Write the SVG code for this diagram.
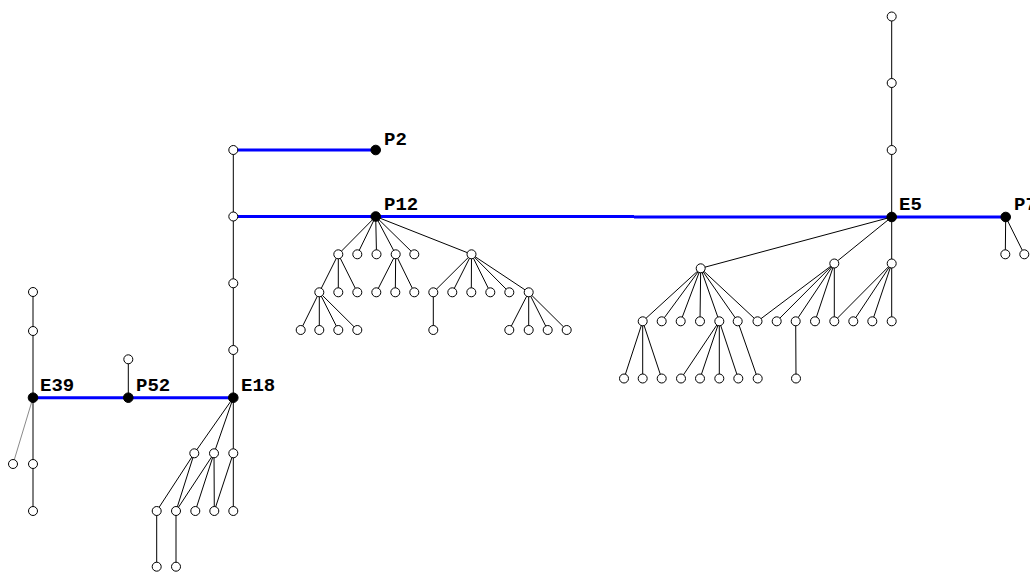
<svg xmlns="http://www.w3.org/2000/svg" width="1030" height="573" viewBox="0 0 1030 573">
<style>
  .e { stroke: #000; stroke-width: 1; fill: none; }
  .g { stroke: #8a8a8a; stroke-width: 1; fill: none; }
  .b { stroke: #0000ff; stroke-width: 3; fill: none; }
  .n { fill: #fff; stroke: #000; stroke-width: 1; }
  .k { fill: #000; stroke: #000; stroke-width: 1; }
  .l { font-family: "Liberation Mono", "Courier New", monospace; font-weight: bold; font-size: 19px; fill: #000; }
</style>
<rect width="1030" height="573" fill="#fff"/>

<!-- connectors -->
<g id="connectors">
  <!-- highlighted path -->
  <g class="b">
    <line x1="33" y1="397.7" x2="128.3" y2="397.7"/>
    <line x1="128.3" y1="397.7" x2="233.3" y2="397.7"/>
    <line x1="233.3" y1="150" x2="375.7" y2="150"/>
    <line x1="233.3" y1="216.5" x2="375.7" y2="216.5"/>
    <line x1="375.7" y1="216.5" x2="634" y2="216.5"/>
    <line x1="634" y1="217" x2="891.7" y2="217"/>
    <line x1="891.7" y1="217" x2="1005.7" y2="217"/>
  </g>
  <g class="e">
    <!-- E39 column -->
    <line x1="33" y1="292" x2="33" y2="331"/>
    <line x1="33" y1="331" x2="33" y2="397.7"/>
    <line x1="33" y1="397.7" x2="33" y2="464"/>
    <line x1="33" y1="464" x2="33" y2="511"/>
    <!-- P52 -->
    <line x1="128.3" y1="397.7" x2="128.3" y2="359.3"/>
    <!-- E18 column -->
    <line x1="233.3" y1="150" x2="233.3" y2="216.5"/>
    <line x1="233.3" y1="216.5" x2="233.3" y2="283.3"/>
    <line x1="233.3" y1="283.3" x2="233.3" y2="350"/>
    <line x1="233.3" y1="350" x2="233.3" y2="397.7"/>
    <!-- E18 subtree -->
    <line x1="233.3" y1="397.7" x2="194.3" y2="453.3"/>
    <line x1="233.3" y1="397.7" x2="214" y2="453.3"/>
    <line x1="233.3" y1="397.7" x2="233.3" y2="453.3"/>
    <line x1="194.3" y1="453.3" x2="156.7" y2="511"/>
    <line x1="194.3" y1="453.3" x2="176" y2="511"/>
    <line x1="214" y1="453.3" x2="176" y2="511"/>
    <line x1="214" y1="453.3" x2="195.3" y2="511"/>
    <line x1="214" y1="453.3" x2="214.3" y2="511"/>
    <line x1="233.3" y1="453.3" x2="214.3" y2="511"/>
    <line x1="233.3" y1="453.3" x2="233.3" y2="511"/>
    <line x1="156.7" y1="511" x2="156.7" y2="566.7"/>
    <line x1="176" y1="511" x2="176" y2="566.7"/>
    <!-- P12 subtree -->
    <line x1="375.7" y1="216.5" x2="338.3" y2="254.3"/>
    <line x1="375.7" y1="216.5" x2="357.3" y2="254.3"/>
    <line x1="375.7" y1="216.5" x2="376.5" y2="254.3"/>
    <line x1="375.7" y1="216.5" x2="395.7" y2="254.3"/>
    <line x1="375.7" y1="216.5" x2="414.3" y2="254.3"/>
    <line x1="375.7" y1="216.5" x2="471.5" y2="254.3"/>
    <line x1="338.3" y1="254.3" x2="319.3" y2="292.3"/>
    <line x1="338.3" y1="254.3" x2="338.3" y2="292.3"/>
    <line x1="338.3" y1="254.3" x2="357.3" y2="292.3"/>
    <line x1="395.7" y1="254.3" x2="376.3" y2="292.3"/>
    <line x1="395.7" y1="254.3" x2="395.3" y2="292.3"/>
    <line x1="395.7" y1="254.3" x2="414.3" y2="292.3"/>
    <line x1="319.3" y1="292.3" x2="300.7" y2="330"/>
    <line x1="319.3" y1="292.3" x2="319.3" y2="330"/>
    <line x1="319.3" y1="292.3" x2="338.3" y2="330"/>
    <line x1="319.3" y1="292.3" x2="357.3" y2="330"/>
    <line x1="471.5" y1="254.3" x2="433.3" y2="292.3"/>
    <line x1="471.5" y1="254.3" x2="452.3" y2="292.3"/>
    <line x1="471.5" y1="254.3" x2="471.3" y2="292.3"/>
    <line x1="471.5" y1="254.3" x2="490.3" y2="292.3"/>
    <line x1="471.5" y1="254.3" x2="509.3" y2="292.3"/>
    <line x1="471.5" y1="254.3" x2="528.7" y2="292.3"/>
    <line x1="433.3" y1="292.3" x2="433.3" y2="330"/>
    <line x1="528.7" y1="292.3" x2="509.3" y2="330"/>
    <line x1="528.7" y1="292.3" x2="528.7" y2="330"/>
    <line x1="528.7" y1="292.3" x2="547.7" y2="330"/>
    <line x1="528.7" y1="292.3" x2="566.7" y2="330"/>
    <!-- E5 column -->
    <line x1="891.7" y1="16.5" x2="891.7" y2="83"/>
    <line x1="891.7" y1="83" x2="891.7" y2="150"/>
    <line x1="891.7" y1="150" x2="891.7" y2="217"/>
    <line x1="891.7" y1="217" x2="891.7" y2="263.5"/>
    <!-- P7 -->
    <line x1="1005.7" y1="217" x2="1005.3" y2="254.3"/>
    <line x1="1005.7" y1="217" x2="1024.3" y2="254.3"/>
    <!-- E5 subtree -->
    <line x1="891.7" y1="217" x2="700.7" y2="268.3"/>
    <line x1="891.7" y1="217" x2="834.3" y2="263.5"/>
    <line x1="700.7" y1="268.3" x2="642.7" y2="321.3"/>
    <line x1="700.7" y1="268.3" x2="661.7" y2="321.3"/>
    <line x1="700.7" y1="268.3" x2="680.7" y2="321.3"/>
    <line x1="700.7" y1="268.3" x2="700" y2="321.3"/>
    <line x1="700.7" y1="268.3" x2="719.3" y2="321.3"/>
    <line x1="700.7" y1="268.3" x2="737.7" y2="321.3"/>
    <line x1="700.7" y1="268.3" x2="757.5" y2="321.3"/>
    <line x1="834.3" y1="263.5" x2="757.5" y2="321.3"/>
    <line x1="834.3" y1="263.5" x2="776.7" y2="321.3"/>
    <line x1="834.3" y1="263.5" x2="795.7" y2="321.3"/>
    <line x1="834.3" y1="263.5" x2="815" y2="321.3"/>
    <line x1="834.3" y1="263.5" x2="834.3" y2="321.3"/>
    <line x1="891.7" y1="263.5" x2="834.3" y2="321.3"/>
    <line x1="891.7" y1="263.5" x2="853.3" y2="321.3"/>
    <line x1="891.7" y1="263.5" x2="872.3" y2="321.3"/>
    <line x1="891.7" y1="263.5" x2="891.7" y2="321.3"/>
    <line x1="642.7" y1="321.3" x2="624" y2="378.5"/>
    <line x1="642.7" y1="321.3" x2="642.7" y2="378.5"/>
    <line x1="642.7" y1="321.3" x2="661.7" y2="378.5"/>
    <line x1="719.3" y1="321.3" x2="681" y2="378.5"/>
    <line x1="719.3" y1="321.3" x2="700" y2="378.5"/>
    <line x1="719.3" y1="321.3" x2="719.3" y2="378.5"/>
    <line x1="719.3" y1="321.3" x2="738.3" y2="378.5"/>
    <line x1="737.7" y1="321.3" x2="757.7" y2="378.5"/>
    <line x1="795.7" y1="321.3" x2="796" y2="378.5"/>
  </g>
  <line class="g" x1="33" y1="397.7" x2="13" y2="464"/>
</g>

<!-- nodes: left branch -->
<g id="a1"><circle class="n" cx="33" cy="292" r="4.5"/></g>
<g id="a2"><circle class="n" cx="33" cy="331" r="4.5"/></g>
<g id="a3"><circle class="n" cx="13" cy="464" r="4.5"/></g>
<g id="a4"><circle class="n" cx="33" cy="464" r="4.5"/></g>
<g id="a5"><circle class="n" cx="33" cy="511" r="4.5"/></g>
<g id="E39"><circle class="k" cx="33" cy="397.7" r="4.8"/><text class="l" x="40" y="391">E39</text></g>
<g id="b1"><circle class="n" cx="128.3" cy="359.3" r="4.5"/></g>
<g id="P52"><circle class="k" cx="128.3" cy="397.7" r="4.8"/><text class="l" x="136" y="391">P52</text></g>
<g id="c1"><circle class="n" cx="233.3" cy="350" r="4.5"/></g>
<g id="c2"><circle class="n" cx="233.3" cy="283.3" r="4.5"/></g>
<g id="c3"><circle class="n" cx="233.3" cy="216.5" r="4.5"/></g>
<g id="c4"><circle class="n" cx="233.3" cy="150" r="4.5"/></g>
<g id="E18"><circle class="k" cx="233.3" cy="397.7" r="4.8"/><text class="l" x="241" y="391">E18</text></g>
<g id="d1"><circle class="n" cx="194.3" cy="453.3" r="4.5"/></g>
<g id="d2"><circle class="n" cx="214" cy="453.3" r="4.5"/></g>
<g id="d3"><circle class="n" cx="233.3" cy="453.3" r="4.5"/></g>
<g id="d4"><circle class="n" cx="156.7" cy="511" r="4.5"/></g>
<g id="d5"><circle class="n" cx="176" cy="511" r="4.5"/></g>
<g id="d6"><circle class="n" cx="195.3" cy="511" r="4.5"/></g>
<g id="d7"><circle class="n" cx="214.3" cy="511" r="4.5"/></g>
<g id="d8"><circle class="n" cx="233.3" cy="511" r="4.5"/></g>
<g id="d9"><circle class="n" cx="156.7" cy="566.7" r="4.5"/></g>
<g id="d10"><circle class="n" cx="176" cy="566.7" r="4.5"/></g>

<!-- nodes: P2 / P12 -->
<g id="P2"><circle class="k" cx="375.7" cy="150" r="4.8"/><text class="l" x="384" y="145">P2</text></g>
<g id="P12"><circle class="k" cx="375.7" cy="216.5" r="4.8"/><text class="l" x="384" y="210">P12</text></g>
<g id="p1"><circle class="n" cx="338.3" cy="254.3" r="4.5"/></g>
<g id="p2"><circle class="n" cx="357.3" cy="254.3" r="4.5"/></g>
<g id="p3"><circle class="n" cx="376.5" cy="254.3" r="4.5"/></g>
<g id="p4"><circle class="n" cx="395.7" cy="254.3" r="4.5"/></g>
<g id="p5"><circle class="n" cx="414.3" cy="254.3" r="4.5"/></g>
<g id="p6"><circle class="n" cx="471.5" cy="254.3" r="4.5"/></g>
<g id="q1"><circle class="n" cx="319.3" cy="292.3" r="4.5"/></g>
<g id="q2"><circle class="n" cx="338.3" cy="292.3" r="4.5"/></g>
<g id="q3"><circle class="n" cx="357.3" cy="292.3" r="4.5"/></g>
<g id="q4"><circle class="n" cx="376.3" cy="292.3" r="4.5"/></g>
<g id="q5"><circle class="n" cx="395.3" cy="292.3" r="4.5"/></g>
<g id="q6"><circle class="n" cx="414.3" cy="292.3" r="4.5"/></g>
<g id="r1"><circle class="n" cx="300.7" cy="330" r="4.5"/></g>
<g id="r2"><circle class="n" cx="319.3" cy="330" r="4.5"/></g>
<g id="r3"><circle class="n" cx="338.3" cy="330" r="4.5"/></g>
<g id="r4"><circle class="n" cx="357.3" cy="330" r="4.5"/></g>
<g id="s1"><circle class="n" cx="433.3" cy="292.3" r="4.5"/></g>
<g id="s2"><circle class="n" cx="452.3" cy="292.3" r="4.5"/></g>
<g id="s3"><circle class="n" cx="471.3" cy="292.3" r="4.5"/></g>
<g id="s4"><circle class="n" cx="490.3" cy="292.3" r="4.5"/></g>
<g id="s5"><circle class="n" cx="509.3" cy="292.3" r="4.5"/></g>
<g id="s6"><circle class="n" cx="528.7" cy="292.3" r="4.5"/></g>
<g id="t1"><circle class="n" cx="433.3" cy="330" r="4.5"/></g>
<g id="t2"><circle class="n" cx="509.3" cy="330" r="4.5"/></g>
<g id="t3"><circle class="n" cx="528.7" cy="330" r="4.5"/></g>
<g id="t4"><circle class="n" cx="547.7" cy="330" r="4.5"/></g>
<g id="t5"><circle class="n" cx="566.7" cy="330" r="4.5"/></g>

<!-- nodes: E5 branch -->
<g id="e1"><circle class="n" cx="891.7" cy="16.5" r="4.5"/></g>
<g id="e2"><circle class="n" cx="891.7" cy="83" r="4.5"/></g>
<g id="e3"><circle class="n" cx="891.7" cy="150" r="4.5"/></g>
<g id="E5"><circle class="k" cx="891.7" cy="217" r="4.8"/><text class="l" x="899" y="210">E5</text></g>
<g id="P7"><circle class="k" cx="1005.7" cy="217" r="4.8"/><text class="l" x="1014" y="210">P7</text></g>
<g id="f1"><circle class="n" cx="1005.3" cy="254.3" r="4.5"/></g>
<g id="f2"><circle class="n" cx="1024.3" cy="254.3" r="4.5"/></g>
<g id="g1"><circle class="n" cx="700.7" cy="268.3" r="4.5"/></g>
<g id="g2"><circle class="n" cx="834.3" cy="263.5" r="4.5"/></g>
<g id="g3"><circle class="n" cx="891.7" cy="263.5" r="4.5"/></g>
<g id="h1"><circle class="n" cx="642.7" cy="321.3" r="4.5"/></g>
<g id="h2"><circle class="n" cx="661.7" cy="321.3" r="4.5"/></g>
<g id="h3"><circle class="n" cx="680.7" cy="321.3" r="4.5"/></g>
<g id="h4"><circle class="n" cx="700" cy="321.3" r="4.5"/></g>
<g id="h5"><circle class="n" cx="719.3" cy="321.3" r="4.5"/></g>
<g id="h6"><circle class="n" cx="737.7" cy="321.3" r="4.5"/></g>
<g id="h7"><circle class="n" cx="757.5" cy="321.3" r="4.5"/></g>
<g id="h8"><circle class="n" cx="776.7" cy="321.3" r="4.5"/></g>
<g id="h9"><circle class="n" cx="795.7" cy="321.3" r="4.5"/></g>
<g id="h10"><circle class="n" cx="815" cy="321.3" r="4.5"/></g>
<g id="h11"><circle class="n" cx="834.3" cy="321.3" r="4.5"/></g>
<g id="h12"><circle class="n" cx="853.3" cy="321.3" r="4.5"/></g>
<g id="h13"><circle class="n" cx="872.3" cy="321.3" r="4.5"/></g>
<g id="h14"><circle class="n" cx="891.7" cy="321.3" r="4.5"/></g>
<g id="i1"><circle class="n" cx="624" cy="378.5" r="4.5"/></g>
<g id="i2"><circle class="n" cx="642.7" cy="378.5" r="4.5"/></g>
<g id="i3"><circle class="n" cx="661.7" cy="378.5" r="4.5"/></g>
<g id="i4"><circle class="n" cx="681" cy="378.5" r="4.5"/></g>
<g id="i5"><circle class="n" cx="700" cy="378.5" r="4.5"/></g>
<g id="i6"><circle class="n" cx="719.3" cy="378.5" r="4.5"/></g>
<g id="i7"><circle class="n" cx="738.3" cy="378.5" r="4.5"/></g>
<g id="i8"><circle class="n" cx="757.7" cy="378.5" r="4.5"/></g>
<g id="i9"><circle class="n" cx="796" cy="378.5" r="4.5"/></g>
</svg>
